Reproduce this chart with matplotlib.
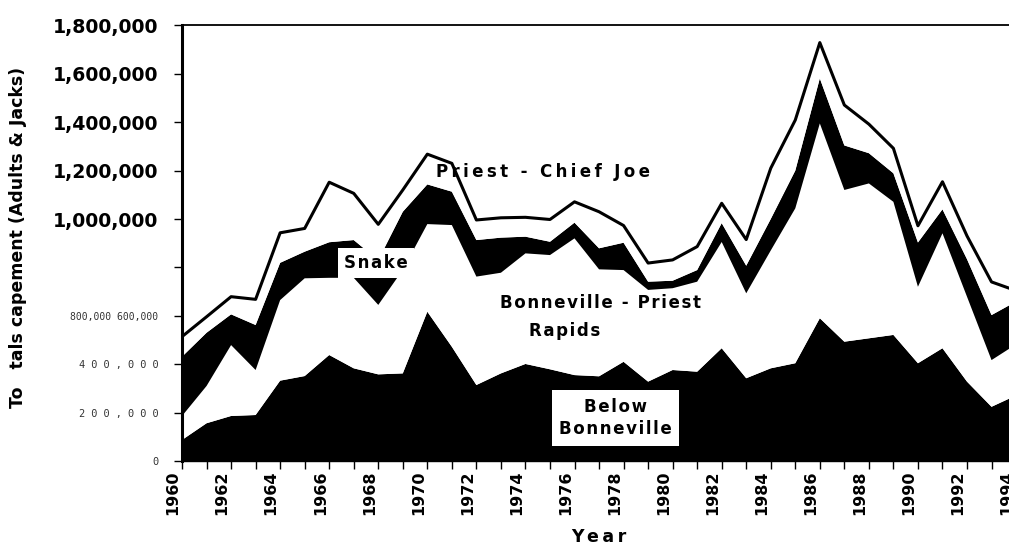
import numpy as np
import matplotlib
matplotlib.use("Agg")
import matplotlib.pyplot as plt
from matplotlib import transforms

# -----------------------------
# Escapement by reach, thousands of fish (adults & jacks)
# -----------------------------
years = np.arange(1960, 1995)

below_bonneville = np.array([
    87, 156, 186, 190, 332, 351, 438, 383, 358, 362,
    617, 472, 314, 362, 401, 379, 355, 350, 410, 328,
    376, 369, 466, 342, 383, 404, 590, 493, 507, 521,
    404, 466, 328, 224, 271]) * 1000

bonneville_priest = np.array([
    99, 154, 293, 186, 333, 404, 319, 374, 287, 428,
    362, 503, 448, 416, 457, 472, 565, 442, 379, 379,
    338, 372, 439, 351, 487, 640, 805, 627, 640, 550,
    316, 475, 351, 193, 211]) * 1000

snake = np.array([
    245, 220, 127, 186, 154, 110, 147, 156, 185, 240,
    164, 138, 151, 145, 69, 55, 65, 87, 113, 34,
    31, 48, 78, 114, 130, 156, 186, 184, 125, 118,
    183, 99, 155, 186, 177]) * 1000

priest_chief_joe = np.array([
    83, 66, 73, 106, 124, 96, 248, 193, 148, 90,
    125, 117, 83, 82, 80, 92, 86, 151, 71, 77,
    86, 97, 82, 108, 210, 209, 148, 167, 120, 103,
    69, 114, 96, 137, 45]) * 1000

ytick_values = np.arange(0, 1800001, 200000)
ytick_labels = ["0", "2 0 0 , 0 0 0", "4 0 0 , 0 0 0", "800,000 600,000", "",
                "1,000,000", "1,200,000", "1,400,000", "1,600,000", "1,800,000"]


def spaced(s, gap="\u2009"):
    # letter spacing like the original scan
    return gap.join(s)


HAIR = "\u200a"

fig = plt.figure(figsize=(10.09, 5.49), dpi=100)
ax = fig.add_axes([0.1804, 0.1603, 0.8266, 0.7934])

ax.stackplot(years, below_bonneville, bonneville_priest, snake, priest_chief_joe,
             colors=["black", "white", "black", "white"], linewidth=0)
total = below_bonneville + bonneville_priest + snake + priest_chief_joe
ax.plot(years, total, color="black", lw=2.2)

ax.set_xlim(1960, 1994)
ax.set_ylim(0, 1800000)

ax.spines["right"].set_visible(False)
ax.spines["left"].set_linewidth(2.2)
ax.spines["top"].set_linewidth(1.3)
ax.spines["bottom"].set_linewidth(1.0)

# x axis
ax.set_xticks(years)
ax.set_xticklabels([str(y) if y % 2 == 0 else "" for y in years],
                   rotation=90, fontweight="bold", fontsize=11.5)
ax.tick_params(axis="x", length=6, width=1, pad=1)
shift = transforms.ScaledTranslation(-9 / 100, 0, fig.dpi_scale_trans)
for lbl in ax.get_xticklabels():
    lbl.set_transform(lbl.get_transform() + shift)

# y axis
ax.set_yticks(ytick_values)
ax.set_yticklabels(ytick_labels)
ax.tick_params(axis="y", length=6, width=1, pad=11)
for i, lbl in enumerate(ax.get_yticklabels()):
    if i < 5:
        lbl.set_fontfamily("DejaVu Sans Mono")
        lbl.set_color("#333333")
        lbl.set_fontsize(7.0 if i == 3 else 7.4)
    else:
        lbl.set_fontweight("bold")
        lbl.set_fontsize(13.6)

fig.text(18 / 1009, 1 - 237 / 549, "To   tals capement (Adults & Jacks)",
         rotation=90, ha="center", va="center", fontweight="bold", fontsize=12.5)
fig.text(599 / 1009, 1 - 537 / 549, spaced("Year"),
         ha="center", va="center", fontweight="bold", fontsize=12.5)

# region labels
ax.text(1974.73, 1194000, spaced("Priest - Chief Joe"), ha="center", va="center",
        fontweight="bold", fontsize=12)
ax.text(1967.92, 818000, spaced("Snake", HAIR), ha="center", va="center",
        fontweight="bold", fontsize=12,
        bbox=dict(facecolor="white", edgecolor="none", boxstyle="square,pad=0.37"))
ax.text(1977.06, 653000, spaced("Bonneville - Priest", HAIR), ha="center", va="center",
        fontweight="bold", fontsize=12)
ax.text(1975.59, 537000, spaced("Rapids", HAIR), ha="center", va="center",
        fontweight="bold", fontsize=12)
ax.text(1977.67, 178000, spaced("Below", HAIR) + "\n" + spaced("Bonneville", HAIR),
        ha="center", va="center", fontweight="bold", fontsize=12, linespacing=1.3,
        bbox=dict(facecolor="white", edgecolor="none", boxstyle="square,pad=0.45"))

fig.savefig("out.png", dpi=100)
